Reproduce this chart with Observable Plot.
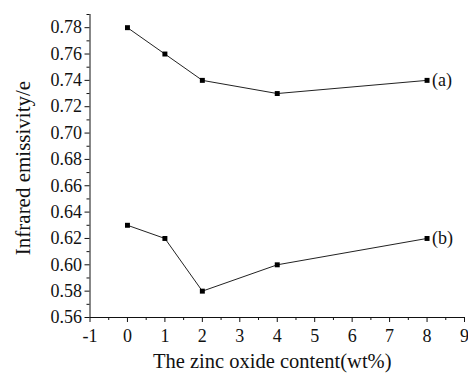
<!DOCTYPE html>
<html><head><meta charset="utf-8">
<script src="https://cdn.jsdelivr.net/npm/d3@7"></script>
<script src="https://cdn.jsdelivr.net/npm/@observablehq/plot@0.6"></script>
<style>body{margin:0;background:#fff} svg text{font-family:'Liberation Serif','Times New Roman',serif}</style>
</head><body><div id="chart"></div>
<script>
const zincContent = [0, 1, 2, 4, 8];
const seriesA = [0.78, 0.76, 0.74, 0.73, 0.74];
const seriesB = [0.63, 0.62, 0.58, 0.60, 0.62];
const seriesLabels = ["(a)", "(b)"];
const xTicks = [-1, 0, 1, 2, 3, 4, 5, 6, 7, 8, 9];
const yTicks = [0.56, 0.58, 0.60, 0.62, 0.64, 0.66, 0.68, 0.70, 0.72, 0.74, 0.76, 0.78];
const xTitle = "The zinc oxide content(wt%)";
const yTitle = "Infrared emissivity/e";

const rows = [];
zincContent.forEach((x, i) => {
  rows.push({s: seriesLabels[0], x, y: seriesA[i]});
  rows.push({s: seriesLabels[1], x, y: seriesB[i]});
});
const ends = [
  {s: seriesLabels[0], x: zincContent[4], y: seriesA[4]},
  {s: seriesLabels[1], x: zincContent[4], y: seriesB[4]}
];
const xMinor = d3.range(-1, 9.01, 0.5).filter(v => !xTicks.includes(v));
const yMinor = d3.range(0.57, 0.79, 0.02).map(v => +v.toFixed(2));

const font = "'Liberation Serif', 'Times New Roman', serif";
const chart = Plot.plot({
  width: 468, height: 374,
  marginLeft: 89.5, marginRight: 4, marginTop: 14, marginBottom: 57,
  style: {fontFamily: font, fontSize: "18px", color: "#111", background: "#fff"},
  x: {domain: [-1, 9]},
  y: {domain: [0.56, 0.79]},
  marks: [
    Plot.axisX({ticks: xTicks, tickSize: 5, tickPadding: 7, tickFormat: d => String(d), fontSize: 18, fontFamily: font, label: null}),
    Plot.axisX({ticks: xMinor, tickSize: 3, tickFormat: () => "", label: null}),
    Plot.axisY({ticks: yTicks, tickSize: 5, tickPadding: 3, tickFormat: d3.format(".2f"), fontSize: 18, fontFamily: font, label: null}),
    Plot.axisY({ticks: yMinor, tickSize: 3, tickFormat: () => "", label: null}),
    Plot.ruleX([-1], {stroke: "#111"}),
    Plot.ruleY([0.56], {stroke: "#111"}),
    Plot.line(rows, {x: "x", y: "y", z: "s", stroke: "#222", strokeWidth: 1}),
    Plot.dot(rows, {x: "x", y: "y", symbol: "square", r: 2.8, fill: "#000"}),
    Plot.text(ends, {x: "x", y: "y", text: "s", dx: 5, textAnchor: "start", fontSize: 18, fontFamily: font, fill: "#111"}),
    Plot.text([xTitle], {frameAnchor: "bottom", dx: -5, dy: 44, textAnchor: "middle", lineAnchor: "middle", text: d => d, fontSize: 20.5, fontFamily: font, fill: "#111"}),
    Plot.text([yTitle], {frameAnchor: "left", dx: -67, dy: 2, textAnchor: "middle", lineAnchor: "middle", rotate: -90, text: d => d, fontSize: 21, fontFamily: font, fill: "#111"})
  ]
});
document.getElementById("chart").append(chart);
</script></body></html>
